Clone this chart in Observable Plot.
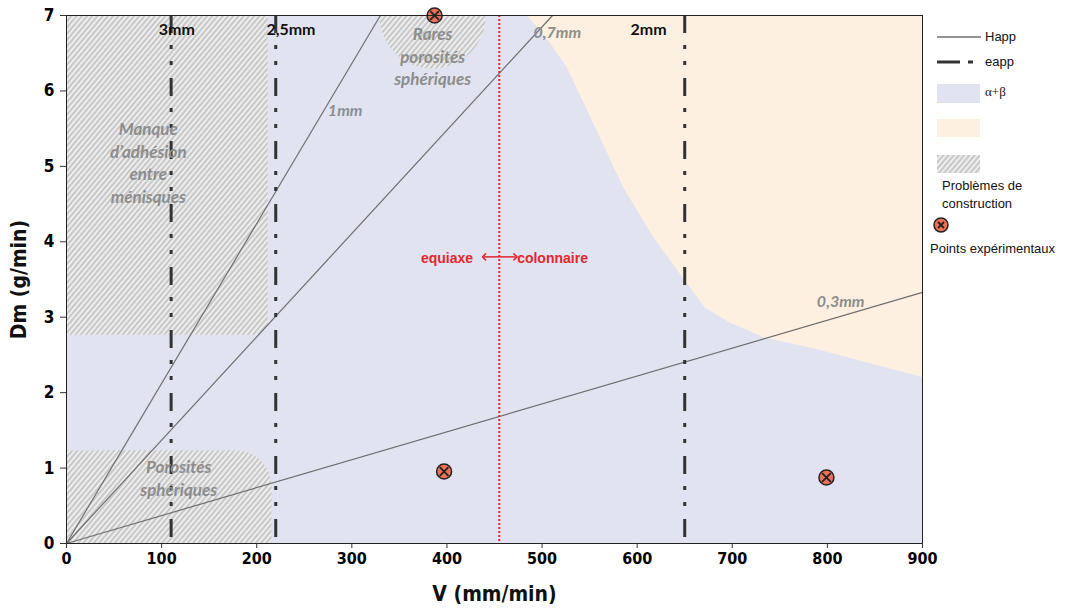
<!DOCTYPE html>
<html><head><meta charset="utf-8">
<script src="https://cdn.jsdelivr.net/npm/d3@7"></script>
<script src="https://cdn.jsdelivr.net/npm/@observablehq/plot@0.6"></script>
<style>
body{margin:0;background:#fff;font-family:"Liberation Sans",Arial,sans-serif;}
#wrap{position:relative;width:1070px;height:614px;overflow:hidden;}
.lg{position:absolute;font-size:13px;color:#111;line-height:16px;white-space:nowrap;}
.sw{position:absolute;}
</style></head><body>
<div id="wrap"><div id="chart"></div></div>
<script>
// ---- data ----
const xDomain = [0, 900];
const yDomain = [0, 7];
const xTicks = [0, 100, 200, 300, 400, 500, 600, 700, 800, 900];
const yTicks = [0, 1, 2, 3, 4, 5, 6, 7];

// Happ iso-lines (through origin)
const happNames = ["1mm", "0,7mm", "0,3mm"];
const happEndV = [330, 511, 900];
const happEndDm = [7, 7, 3.33];
const happLabelV = [293, 516, 814];
const happLabelDm = [5.74, 6.77, 3.2];

// eapp vertical lines
const eappNames = ["3mm", "2,5mm", "2mm"];
const eappV = [110, 220, 650];
const eappLabelV = [116, 236, 612];
const eappLabelDm = 6.81;

// equiaxe / colonnaire transition
const transitionV = 455;
const transitionLabels = ["equiaxe", "colonnaire"];
const transitionLabelV = [400, 511];
const transitionLabelDm = 3.78;
const transitionArrowV = [439, 472];

// boundary between α+β region and the other region
const boundaryV = [484.7, 508.9, 526.8, 547.8, 585.6, 617.2, 648.8, 671.9, 698.2, 732.9, 792.8, 900];
const boundaryDm = [7.0, 6.63, 6.30, 5.74, 4.72, 4.06, 3.51, 3.12, 2.92, 2.73, 2.56, 2.20];

// construction problem zones
const zoneRectV1 = [-60, -60];
const zoneRectV2 = [212, 216];
const zoneRectDm1 = [2.76, -0.5];
const zoneRectDm2 = [7.6, 1.23];
const zoneRectRadius = [14, 36];
const zoneRoundV = 385, zoneRoundDm = 7;

const zoneTexts = ["Manque\nd\u2019adhésion\nentre\nménisques", "Porosités\nsphériques", "Rares\nporosités\nsphériques"];
const zoneTextV = [86, 118, 385];
const zoneTextDm = [5.06, 0.875, 6.47];

// experimental points
const pointsV = [387, 397, 799];
const pointsDm = [7.0, 0.955, 0.875];

// ---- build ----
const happ = happNames.map((n, i) => ({n, x2: happEndV[i], y2: happEndDm[i], lx: happLabelV[i], ly: happLabelDm[i]}));
const eapp = eappNames.map((n, i) => ({n, x: eappV[i], lx: eappLabelV[i]}));
const boundary = boundaryV.map((x, i) => ({x, y: boundaryDm[i]}));
const zones = zoneRectV1.map((x1, i) => ({x1, x2: zoneRectV2[i], y1: zoneRectDm1[i], y2: zoneRectDm2[i], r: zoneRectRadius[i]}));
const zoneLabels = zoneTexts.map((t, i) => ({t, x: zoneTextV[i], y: zoneTextDm[i]}));
const points = pointsV.map((x, i) => ({x, y: pointsDm[i]}));
const tLabels = transitionLabels.map((t, i) => ({t, x: transitionLabelV[i]}));

const LAV = "#e1e3f1", PEACH = "#fdf0e0", RED = "#e3262d";
const narrow = "'Liberation Sans Narrow','DejaVu Sans Condensed','Liberation Sans',Arial,sans-serif";
const human = "Lato,'Open Sans',sans-serif";
const dashE = "18,12,4,12,4,13";

const chart = Plot.plot({
  width: 1070, height: 614,
  marginLeft: 66, marginRight: 148, marginTop: 15, marginBottom: 71,
  x: {domain: xDomain},
  y: {domain: yDomain},
  style: {background: "transparent"},
  marks: [
    Plot.rect([0], {x1: xDomain[0], x2: xDomain[1], y1: yDomain[0], y2: yDomain[1], fill: LAV}),
    Plot.areaY(boundary, {x: "x", y1: "y", y2: yDomain[1], fill: PEACH}),
    Plot.rect(zones, {x1: "x1", x2: "x2", y1: "y1", y2: "y2", fill: "url(#hatch)", clip: true}),
    Plot.dot([0], {x: zoneRoundV, y: zoneRoundDm, r: 53, fill: "url(#hatch)", clip: true}),
    Plot.link(happ, {x1: 0, y1: 0, x2: "x2", y2: "y2", stroke: "#6f6f6f", strokeWidth: 1.2}),
    Plot.ruleX(eapp, {x: "x", stroke: "#333", strokeWidth: 3, strokeDasharray: dashE}),
    Plot.ruleX([transitionV], {stroke: RED, strokeWidth: 2, strokeDasharray: "2,2"}),
    Plot.text(zoneLabels, {x: "x", y: "y", text: "t", fill: "#8d8d8d", fontSize: 17, fontStyle: "italic", fontWeight: "bold", fontFamily: human, lineHeight: 1.32}),
    Plot.text(happ, {x: "lx", y: "ly", text: "n", fill: "#8d8d8d", fontSize: 16, fontStyle: "italic", fontWeight: "bold", fontFamily: human}),
    Plot.text(eapp, {x: "lx", y: eappLabelDm, text: "n", fill: "#111", fontSize: 16, fontWeight: "bold", fontFamily: human}),
    Plot.text(tLabels, {x: "x", y: transitionLabelDm, text: "t", fill: RED, fontSize: 14, fontWeight: "bold", fontFamily: "'Liberation Sans',Arial,sans-serif"}),
    Plot.link(transitionArrowV, {x1: transitionV, x2: d => d, y1: transitionLabelDm + 0.02, y2: transitionLabelDm + 0.02, stroke: RED, strokeWidth: 1.5, markerEnd: "arrow"}),
    Plot.dot(points, {x: "x", y: "y", r: 7.5, fill: "#ec7158", stroke: "#222", strokeWidth: 1.5}),
    Plot.dot(points, {x: "x", y: "y", r: 4, symbol: "times", stroke: "#222", strokeWidth: 1.8}),
    Plot.frame({stroke: "#222", strokeWidth: 1}),
    Plot.axisX({ticks: xTicks, tickFormat: d => String(d), tickSize: 5, tickPadding: 4, fontSize: 16, fontWeight: "bold", fontFamily: narrow, label: null, stroke: "#333"}),
    Plot.axisY({ticks: yTicks, tickFormat: d => String(d), tickSize: 6, tickPadding: 6, fontSize: 17, fontWeight: "bold", fontFamily: narrow, label: null, stroke: "#333"}),
    Plot.text(["V (mm/min)"], {frameAnchor: "bottom", dy: 57, fontSize: 21, fontWeight: "bold", fontFamily: narrow, fill: "#111"}),
    Plot.text(["Dm (g/min)"], {frameAnchor: "left", textAnchor: "middle", dx: -47, rotate: -90, fontSize: 21, fontWeight: "bold", fontFamily: narrow, fill: "#111"})
  ]
});

// rounded corners of the zones
chart.querySelectorAll('g[fill="url(#hatch)"] rect').forEach((r, i) => {
  const rr = zones[i] ? zones[i].r : 0;
  r.setAttribute("rx", rr); r.setAttribute("ry", rr);
});

// hatch pattern defs
const ns = "http://www.w3.org/2000/svg";
function hatchDefs(svg, id) {
  const defs = document.createElementNS(ns, "defs");
  defs.innerHTML = `<pattern id="${id}" patternUnits="userSpaceOnUse" width="4" height="4" patternTransform="rotate(40)">
    <rect width="4" height="4" fill="#ededed"/><line x1="1" y1="0" x2="1" y2="4" stroke="#b5b5b5" stroke-width="1.3"/></pattern>`;
  svg.insertBefore(defs, svg.firstChild);
}
hatchDefs(chart, "hatch");
document.getElementById("chart").appendChild(chart);

// legend
const wrap = document.getElementById("wrap");
function add(html) { wrap.insertAdjacentHTML("beforeend", html); }
add(`<svg class="sw" style="left:937px;top:30px" width="46" height="14"><line x1="0" x2="44" y1="7" y2="7" stroke="#6f6f6f" stroke-width="1.4"/></svg>`);
add(`<div class="lg" style="left:985px;top:29px">Happ</div>`);
add(`<svg class="sw" style="left:937px;top:55px" width="46" height="14"><line x1="0" x2="23" y1="7" y2="7" stroke="#333" stroke-width="3"/><line x1="31" x2="36" y1="7" y2="7" stroke="#333" stroke-width="3"/></svg>`);
add(`<div class="lg" style="left:985px;top:54px">eapp</div>`);
add(`<svg class="sw" style="left:937px;top:84px" width="44" height="20"><rect width="43" height="19" fill="${LAV}"/></svg>`);
add(`<div class="lg" style="left:985px;top:84px;font-family:'Liberation Serif','DejaVu Serif',serif">α+β</div>`);
add(`<svg class="sw" style="left:937px;top:119px" width="44" height="19"><rect width="43" height="18" fill="${PEACH}"/></svg>`);
add(`<svg class="sw" id="lgh" style="left:937px;top:155px" width="44" height="19"><rect width="43" height="18" fill="url(#hatch2)"/></svg>`);
hatchDefs(document.getElementById("lgh"), "hatch2");
add(`<div class="lg" style="left:942px;top:177px;line-height:18px">Problèmes de<br>construction</div>`);
add(`<svg class="sw" style="left:932px;top:216px" width="18" height="18"><circle cx="9" cy="9" r="7" fill="#ec7158" stroke="#222" stroke-width="1.5"/><path d="M6,6L12,12M12,6L6,12" stroke="#222" stroke-width="1.8"/></svg>`);
add(`<div class="lg" style="left:930px;top:241px">Points expérimentaux</div>`);
</script>
</body></html>
